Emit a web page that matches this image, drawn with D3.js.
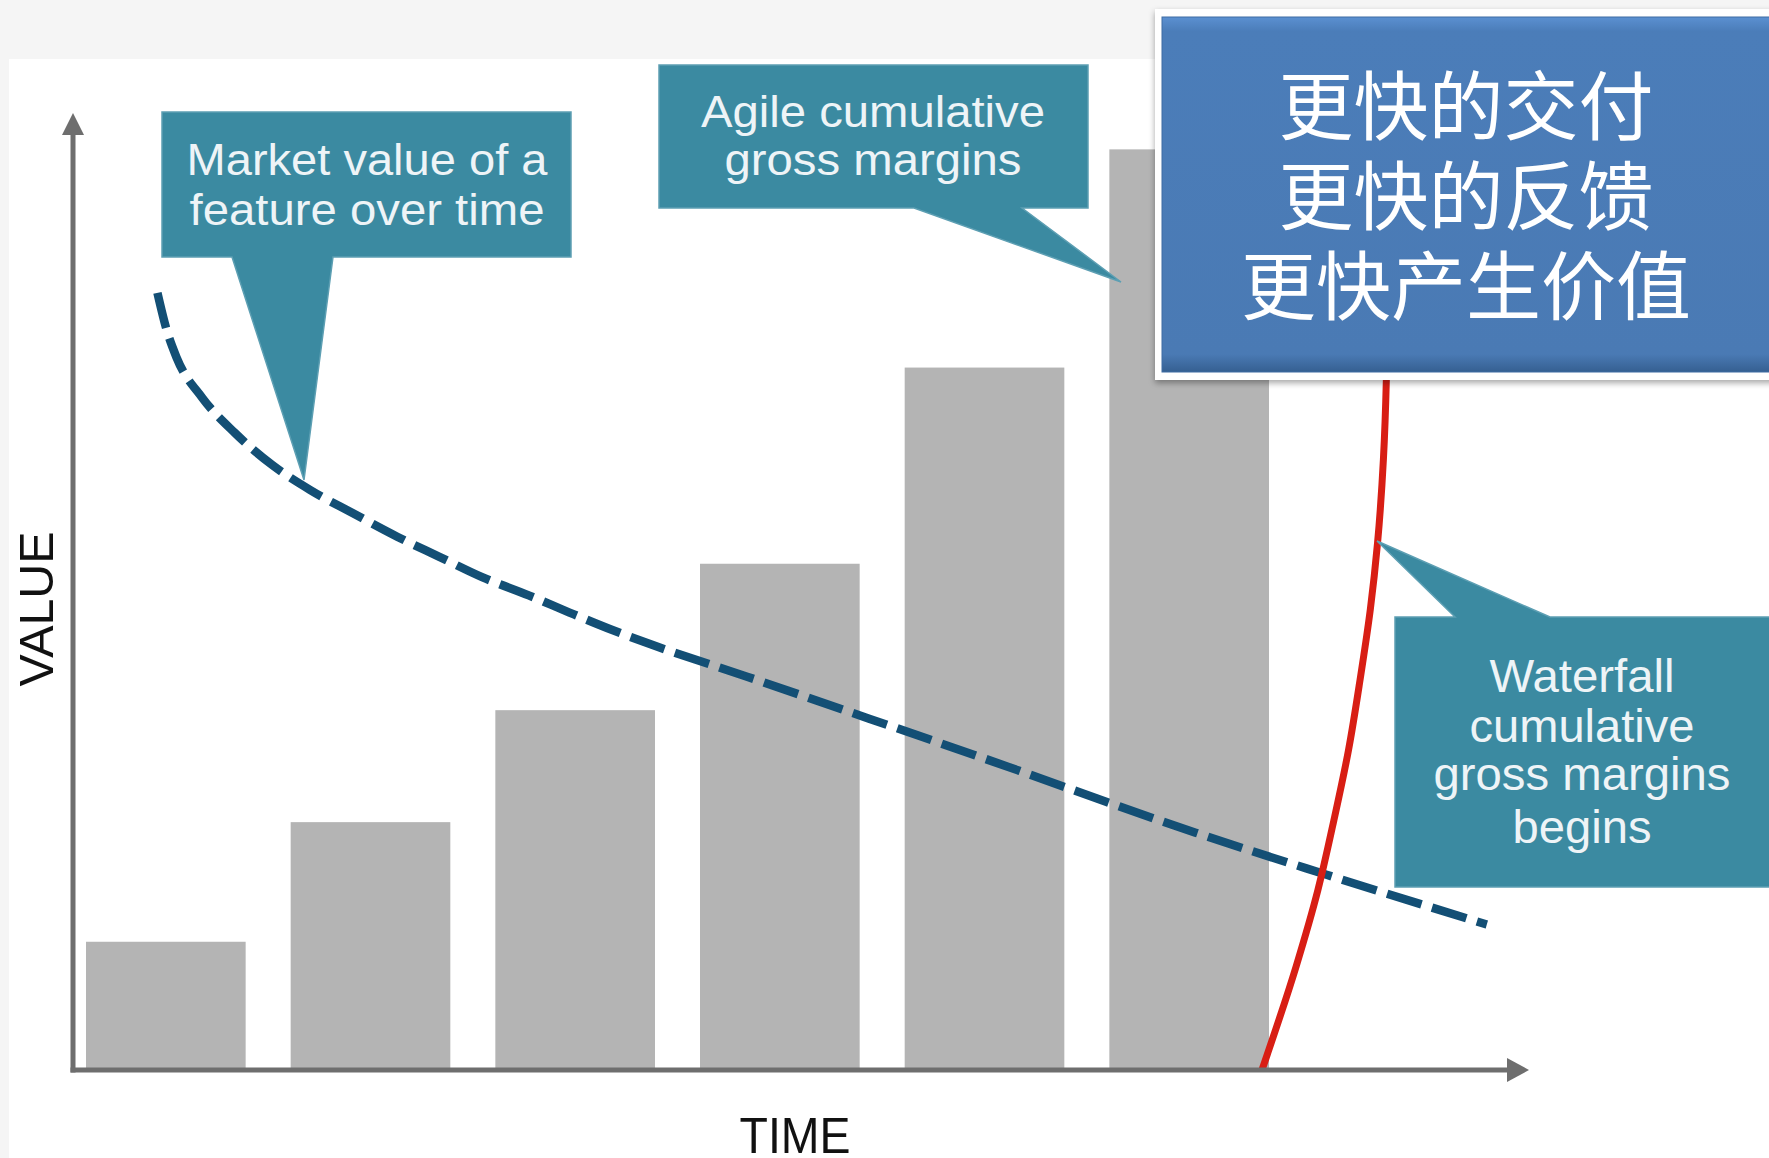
<!DOCTYPE html>
<html>
<head>
<meta charset="utf-8">
<script src="https://cdn.jsdelivr.net/npm/d3@7"></script>
<style>
  html, body { margin: 0; padding: 0; background: #f5f5f5; }
  svg { display: block; }
</style>
</head>
<body>
<svg id="chart" width="1769" height="1158"></svg>
<script>
// Bars: agile cumulative gross margins per release
const periods = ["R1", "R2", "R3", "R4", "R5", "R6"];
const agileMargins = [13.4, 25.9, 37.6, 52.9, 73.4, 96.2];

// Dashed curve: market value of a feature over time
const marketTime  = [5.8, 6.4, 7.1, 8.9, 11.1, 13.7, 16.3, 19.2, 22.3, 25.2, 28.1, 31.3, 34.1, 37.0, 40.2, 46.3, 52.6, 58.9, 65.3, 71.0, 77.1, 86.1, 97.1];
const marketValue = [81.2, 77.5, 74.5, 70.2, 66.6, 63.2, 60.6, 58.2, 55.7, 53.6, 51.5, 49.6, 47.8, 46.0, 44.2, 41.1, 37.8, 34.5, 31.1, 28.0, 24.8, 20.4, 15.2];

// Red curve: waterfall cumulative gross margins
const waterfallTime  = [81.66, 84.0, 85.5, 86.6, 87.6, 88.4, 89.1, 89.6, 90.0, 90.2, 90.25];
const waterfallValue = [0, 10.8, 18.8, 26.1, 33.4, 40.8, 48.1, 55.1, 63.8, 72.0, 76.3];

const calloutTexts = {
    market: ["Market value of a", "feature over time"],
    agile: ["Agile cumulative", "gross margins"],
    waterfall: ["Waterfall", "cumulative", "gross margins", "begins"]
};
const headline = ["更快的交付", "更快的反馈", "更快产生价值"];

const svg = d3.select("#chart");
const W = 1769, H = 1158;

// scales
const x = d3.scaleLinear().domain([0, 100]).range([73, 1529]);
const y = d3.scaleLinear().domain([0, 100]).range([1070, 113]);
const xBand = d3.scaleBand().domain(periods).range([86, 1269]).paddingInner(0.22).paddingOuter(0);

const defs = svg.append("defs");
const shadow = defs.append("filter").attr("id", "shadow")
    .attr("x", "-5%").attr("y", "-5%").attr("width", "115%").attr("height", "120%");
shadow.append("feDropShadow").attr("dx", 0).attr("dy", 3).attr("stdDeviation", 3)
    .attr("flood-color", "#000").attr("flood-opacity", 0.35);

const blueGrad = defs.append("linearGradient").attr("id", "blueGrad")
    .attr("x1", 0).attr("y1", 0).attr("x2", 0).attr("y2", 1);
blueGrad.append("stop").attr("offset", "0%").attr("stop-color", "#5b90d1");
blueGrad.append("stop").attr("offset", "4%").attr("stop-color", "#4b7db9");
blueGrad.append("stop").attr("offset", "95%").attr("stop-color", "#4a7ab4");
blueGrad.append("stop").attr("offset", "100%").attr("stop-color", "#355f91");

// white slide panel
svg.append("rect").attr("x", 9).attr("y", 59).attr("width", W - 9).attr("height", H - 59)
    .attr("fill", "#ffffff");

// bars
svg.selectAll(".bar")
    .data(periods)
    .enter().append("rect")
    .attr("class", "bar")
    .attr("x", d => xBand(d))
    .attr("width", xBand.bandwidth())
    .attr("y", (d, i) => y(agileMargins[i]))
    .attr("height", (d, i) => y(0) - y(agileMargins[i]))
    .attr("fill", "#b4b4b4");

// dashed market value line
const market = marketTime.map((t, i) => [t, marketValue[i]]);
svg.append("path")
    .datum(market)
    .attr("fill", "none")
    .attr("stroke", "#134f75")
    .attr("stroke-width", 8.5)
    .attr("stroke-dasharray", "36,11")
    .attr("d", d3.line().x(d => x(d[0])).y(d => y(d[1])).curve(d3.curveMonotoneX));

// red waterfall line
const waterfall = waterfallTime.map((t, i) => [t, waterfallValue[i]]);
svg.append("path")
    .datum(waterfall)
    .attr("fill", "none")
    .attr("stroke", "#d81e14")
    .attr("stroke-width", 7)
    .attr("d", d3.line().x(d => x(d[0])).y(d => y(d[1])).curve(d3.curveMonotoneY));

// axes with arrow heads
const axisColor = "#6e6e6e";
const xAxis = svg.append("g").attr("transform", `translate(0,${y(0)})`)
    .call(d3.axisBottom(x).ticks(0).tickSizeOuter(0));
const yAxis = svg.append("g").attr("transform", `translate(${x(0)},0)`)
    .call(d3.axisLeft(y).ticks(0).tickSizeOuter(0));
[xAxis, yAxis].forEach(g => g.select(".domain")
    .attr("stroke", axisColor).attr("stroke-width", 5));
xAxis.select(".domain").attr("d", `M${x(0) - 2.5},0H${x(100) - 10}`);
yAxis.select(".domain").attr("d", `M0,${y(0) + 2.5}V${y(100) + 10}`);

svg.append("path")
    .attr("d", `M${x(100)},${y(0)} l-22,-12 v24 z`)
    .attr("fill", axisColor);
svg.append("path")
    .attr("d", `M${x(0)},${y(100)} l-11,22 h22 z`)
    .attr("fill", axisColor);

// axis titles
svg.append("text")
    .attr("transform", `translate(53,${609}) rotate(-90)`)
    .attr("text-anchor", "middle")
    .attr("font-family", "Liberation Sans, Arial, sans-serif")
    .attr("font-size", 48)
    .attr("textLength", 155)
    .attr("lengthAdjust", "spacingAndGlyphs")
    .attr("fill", "#111")
    .text("VALUE");

svg.append("text")
    .attr("x", 795).attr("y", 1153)
    .attr("text-anchor", "middle")
    .attr("font-family", "Liberation Sans, Arial, sans-serif")
    .attr("font-size", 50)
    .attr("textLength", 111)
    .attr("lengthAdjust", "spacingAndGlyphs")
    .attr("fill", "#111")
    .text("TIME");

// callouts
const calloutFill = "#3b8aa1";
function callout(shape, lines, cx, baselines, widths, size) {
    svg.append("path").attr("d", shape).attr("fill", calloutFill)
        .attr("stroke", "#5d9fb3").attr("stroke-width", 1.5);
    lines.forEach((t, i) => {
        svg.append("text")
            .attr("x", cx).attr("y", baselines[i])
            .attr("text-anchor", "middle")
            .attr("font-family", "Liberation Sans, Arial, sans-serif")
            .attr("font-size", size)
            .attr("textLength", widths[i])
            .attr("lengthAdjust", "spacingAndGlyphs")
            .attr("fill", "#eef4f7")
            .text(t);
    });
}

callout("M162,112 H571 V257 H333 L304,480 L232,257 H162 Z",
    calloutTexts.market, 367, [175, 225], [361, 355], 44);
callout("M659,65 H1088 V208 H1022 L1121,282 L914,208 H659 Z",
    calloutTexts.agile, 873, [127, 175], [344, 297], 44);
callout("M1395,617 H1455 L1377,541 L1550,617 H1775 V887 H1395 Z",
    calloutTexts.waterfall, 1582, [692, 742, 790, 843], [185, 225, 297, 139], 46);

// blue headline box
svg.append("rect").attr("x", 1155).attr("y", 9).attr("width", 640).attr("height", 371)
    .attr("fill", "#ffffff").attr("filter", "url(#shadow)");
svg.append("rect").attr("x", 1162).attr("y", 17).attr("width", 640).attr("height", 355)
    .attr("fill", "url(#blueGrad)").attr("stroke", "#3f6ca3").attr("stroke-width", 1);

headline.forEach((t, i) => {
    svg.append("text")
        .attr("x", 1466).attr("y", 134 + i * 90)
        .attr("text-anchor", "middle")
        .attr("font-family", "Noto Sans CJK SC, sans-serif")
        .attr("font-size", 75)
        .attr("fill", "#ffffff")
        .text(t);
});
</script>
</body>
</html>
